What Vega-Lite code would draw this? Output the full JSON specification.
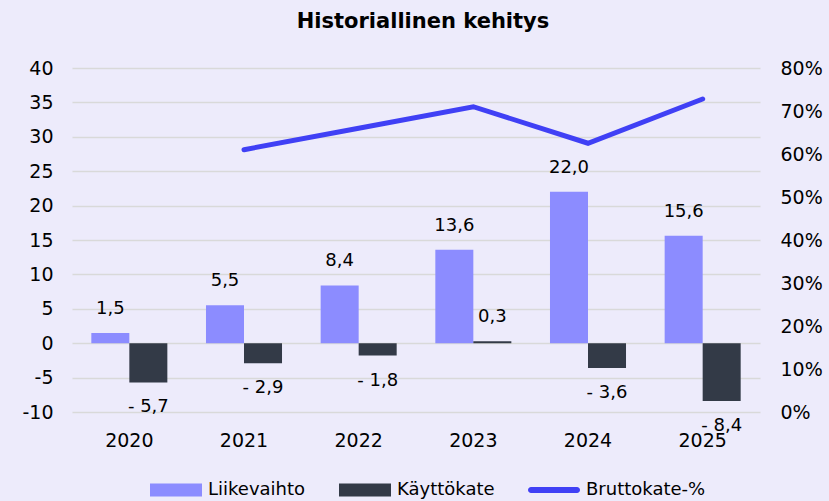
{
  "$schema": "https://vega.github.io/schema/vega-lite/v6.json",
  "width": 688,
  "height": 344,
  "autosize": "none",
  "padding": {"left": 72, "top": 68, "right": 69, "bottom": 89},
  "background": "#EDEBFB",
  "title": {"text": "Historiallinen kehitys", "fontSize": 21, "font": "DejaVu Sans", "fontWeight": "bold", "color": "#000000", "offset": 27, "anchor": "middle", "frame": "group", "dx": 7},
  "config": {
    "locale": {"number": {"decimal": ",", "thousands": " ", "grouping": [3], "currency": ["", " €"], "minus": "- "}},
    "font": "DejaVu Sans",
    "view": {"stroke": null},
    "axis": {"labelFont": "DejaVu Sans", "labelFontSize": 19, "labelColor": "#000000", "ticks": false, "domain": false, "grid": false, "title": null}
  },
  "data": {"values": [
    {"year": "2020", "series": "Liikevaihto", "value": 1.5},
    {"year": "2020", "series": "Käyttökate", "value": -5.7},
    {"year": "2021", "series": "Liikevaihto", "value": 5.5},
    {"year": "2021", "series": "Käyttökate", "value": -2.9},
    {"year": "2021", "series": "Bruttokate-%", "value": 0.61},
    {"year": "2022", "series": "Liikevaihto", "value": 8.4},
    {"year": "2022", "series": "Käyttökate", "value": -1.8},
    {"year": "2022", "series": "Bruttokate-%", "value": 0.66},
    {"year": "2023", "series": "Liikevaihto", "value": 13.6},
    {"year": "2023", "series": "Käyttökate", "value": 0.3},
    {"year": "2023", "series": "Bruttokate-%", "value": 0.71},
    {"year": "2024", "series": "Liikevaihto", "value": 22.0},
    {"year": "2024", "series": "Käyttökate", "value": -3.6},
    {"year": "2024", "series": "Bruttokate-%", "value": 0.625},
    {"year": "2025", "series": "Liikevaihto", "value": 15.6},
    {"year": "2025", "series": "Käyttökate", "value": -8.4},
    {"year": "2025", "series": "Bruttokate-%", "value": 0.728}
  ]},
  "encoding": {
    "x": {"field": "year", "type": "nominal", "scale": {"paddingInner": 0.337, "paddingOuter": 0.1685}, "axis": {"labelAngle": 0, "labelPadding": 19}}
  },
  "layer": [
    {
      "transform": [{"filter": "datum.series !== 'Bruttokate-%'"}],
      "encoding": {
        "xOffset": {"field": "series", "type": "nominal", "scale": {"domain": ["Liikevaihto", "Käyttökate"], "paddingInner": 0, "paddingOuter": 0}},
        "y": {"field": "value", "type": "quantitative", "scale": {"domain": [-10, 40], "nice": false, "zero": false},
          "axis": {"values": [-10, -5, 0, 5, 10, 15, 20, 25, 30, 35, 40], "grid": true, "gridColor": "#D9D9D9", "gridWidth": 1.5, "labelPadding": 19, "labelExpr": "replace(datum.label, '- ', '-')"}}
      },
      "layer": [
        {
          "mark": {"type": "bar"},
          "encoding": {
            "color": {"field": "series", "type": "nominal",
              "scale": {"domain": ["Liikevaihto", "Käyttökate", "Bruttokate-%"], "range": ["#8C8CFF", "#333A47", "#4040F5"]},
              "legend": {"orient": "none", "legendX": 78, "legendY": 396, "direction": "horizontal", "title": null,
                "labelFontSize": 18, "labelFont": "DejaVu Sans", "labelColor": "#000000", "symbolSize": 2704, "symbolStrokeWidth": 0, "labelOffset": 6, "columnPadding": 33,
                "encode": {"symbols": {"update": {
                  "shape": {"signal": "datum.label === 'Bruttokate-%' ? 'M-0.885,-0.115H0.885A0.115,0.115,0,0,1,0.885,0.115H-0.885A0.115,0.115,0,0,1,-0.885,-0.115Z' : 'M-1,-0.25H1V0.25H-1Z'"},
                  "fill": {"signal": "datum.label === 'Liikevaihto' ? '#8C8CFF' : datum.label === 'Käyttökate' ? '#333A47' : '#4040F5'"},
                  "opacity": {"value": 1},
                  "fillOpacity": {"value": 1}
                }}}}
            }
          }
        },
        {
          "transform": [{"filter": "datum.value >= 0"}],
          "mark": {"type": "text", "dy": -24, "fontSize": 18, "font": "DejaVu Sans", "color": "#000000", "baseline": "middle"},
          "encoding": {"text": {"field": "value", "type": "quantitative", "format": ".1f"}}
        },
        {
          "transform": [{"filter": "datum.value < 0"}],
          "mark": {"type": "text", "dy": 25, "fontSize": 18, "font": "DejaVu Sans", "color": "#000000", "baseline": "middle"},
          "encoding": {"text": {"field": "value", "type": "quantitative", "format": ".1f"}}
        },
        {
          "mark": {"type": "rule", "color": "#000000", "strokeWidth": 2},
          "encoding": {"y": {"datum": 0}, "xOffset": null}
        }
      ]
    },
    {
      "transform": [{"filter": "datum.series === 'Bruttokate-%'"}],
      "mark": {"type": "line", "strokeWidth": 5, "strokeCap": "round", "strokeJoin": "miter"},
      "encoding": {
        "y": {"field": "value", "type": "quantitative", "scale": {"domain": [0, 0.8], "nice": false},
          "axis": {"orient": "right", "values": [0, 0.1, 0.2, 0.3, 0.4, 0.5, 0.6, 0.7, 0.8], "format": ".0%", "labelPadding": 20, "grid": false}},
        "color": {"field": "series", "type": "nominal"}
      }
    }
  ],
  "resolve": {"scale": {"y": "independent"}}
}
